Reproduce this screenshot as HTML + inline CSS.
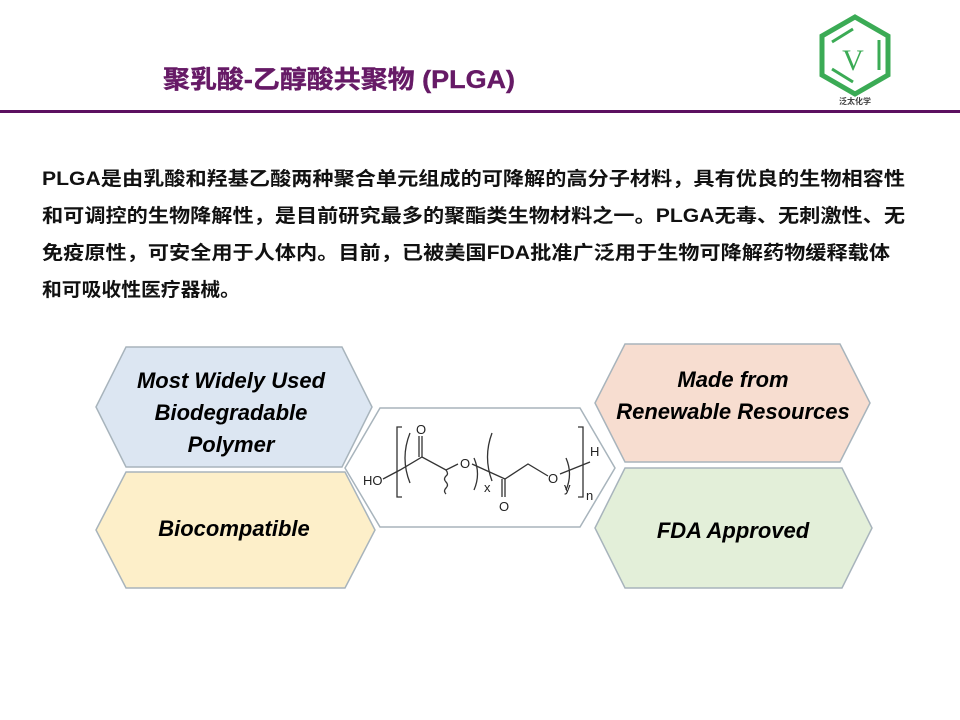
<!DOCTYPE html>
<html><head><meta charset="utf-8"><style>
html,body{margin:0;padding:0;background:#fff}
svg{display:block}
.cn{font-family:"Liberation Sans","Noto Sans CJK SC",sans-serif;font-weight:bold}
.hx{font-family:"Liberation Sans",sans-serif;font-weight:bold;font-style:italic;font-size:22px;fill:#000;text-anchor:middle}
.ch{font-family:"Liberation Sans",sans-serif;font-size:13px;fill:#222}
</style></head><body>
<svg width="960" height="720" viewBox="0 0 960 720" xmlns="http://www.w3.org/2000/svg">
<!-- logo -->
<polygon points="855,17 888,36 888,75 855,94 822,75 822,36" fill="none" stroke="#3bab55" stroke-width="5"/>
<line x1="832" y1="42" x2="853" y2="29" stroke="#3bab55" stroke-width="3"/>
<line x1="832" y1="69" x2="853" y2="82" stroke="#3bab55" stroke-width="3"/>
<line x1="879" y1="40" x2="879" y2="70" stroke="#3bab55" stroke-width="3"/>
<text x="853" y="70" font-family="Liberation Serif,serif" font-size="30" fill="#3bab55" text-anchor="middle">V</text>
<text x="855" y="104" class="cn" font-size="8" fill="#444" text-anchor="middle">泛太化学</text>
<!-- title -->
<text x="163" y="88" class="cn" font-size="25" fill="#661a66" stroke="#661a66" stroke-width="0.4" textLength="352" lengthAdjust="spacingAndGlyphs">聚乳酸-乙醇酸共聚物 (PLGA)</text>
<rect x="0" y="110" width="960" height="3" fill="#5c1060"/>
<!-- body -->
<g class="cn" font-size="19" fill="#111">
<text x="42" y="185" textLength="863" lengthAdjust="spacingAndGlyphs">PLGA是由乳酸和羟基乙酸两种聚合单元组成的可降解的高分子材料，具有优良的生物相容性</text>
<text x="42" y="222" textLength="863" lengthAdjust="spacingAndGlyphs">和可调控的生物降解性，是目前研究最多的聚酯类生物材料之一。PLGA无毒、无刺激性、无</text>
<text x="42" y="259" textLength="848" lengthAdjust="spacingAndGlyphs">免疫原性，可安全用于人体内。目前，已被美国FDA批准广泛用于生物可降解药物缓释载体</text>
<text x="42" y="296" textLength="198" lengthAdjust="spacingAndGlyphs">和可吸收性医疗器械。</text>
</g>
<!-- center hexagon -->
<polygon points="345,468 380,408 580,408 615,468 580,527 380,527" fill="#fff" stroke="#a8b4bc" stroke-width="1.5"/>
<!-- left hexagons -->
<polygon points="96,407 126,347 342,347 372,407 342,467 126,467" fill="#dce6f2" stroke="#a8b4bc" stroke-width="1.5"/>
<polygon points="96,530 126,472 345,472 375,530 345,588 126,588" fill="#fdefc9" stroke="#a8b4bc" stroke-width="1.5"/>
<!-- right hexagons -->
<polygon points="595,403 625,344 840,344 870,403 840,462 625,462" fill="#f7ddd0" stroke="#a8b4bc" stroke-width="1.5"/>
<polygon points="595,528 625,468 842,468 872,528 842,588 625,588" fill="#e3efd9" stroke="#a8b4bc" stroke-width="1.5"/>
<text class="hx" x="231" y="388">Most Widely Used</text>
<text class="hx" x="231" y="420">Biodegradable</text>
<text class="hx" x="231" y="452">Polymer</text>
<text class="hx" x="234" y="536">Biocompatible</text>
<text class="hx" x="733" y="387">Made from</text>
<text class="hx" x="733" y="419">Renewable Resources</text>
<text class="hx" x="733" y="538">FDA Approved</text>
<!-- chemical structure -->
<g stroke="#333" stroke-width="1.3" fill="none">
<path d="M402,427 h-5 v70 h5"/>
<path d="M578,427 h5 v70 h-5"/>
<path d="M410,433 q-10,25 0,50"/>
<path d="M474,458 q7,16 0,32"/>
<path d="M492,433 q-9,24 0,48"/>
<path d="M566,458 q7,16 0,32"/>
<path d="M383,479 L400,470 L422,457 L446,470 L458,464"/>
<path d="M422,457 V436 M419,457 V436"/>
<path d="M446,470 q3,4 0,6 q-3,3 0,6 q3,3 0,6 q-3,3 0,6"/>
<path d="M472,464 L505,479 L528,464 L548,476"/>
<path d="M505,479 V497 M502,479 V497"/>
<path d="M560,474 L590,462"/>
</g>
<text class="ch" x="363" y="485">HO</text>
<text class="ch" x="416" y="434">O</text>
<text class="ch" x="460" y="468">O</text>
<text class="ch" x="484" y="492" font-size="11">x</text>
<text class="ch" x="499" y="511">O</text>
<text class="ch" x="548" y="483">O</text>
<text class="ch" x="564" y="492" font-size="11">y</text>
<text class="ch" x="590" y="456">H</text>
<text class="ch" x="586" y="500" font-size="11">n</text>
</svg>
</body></html>
